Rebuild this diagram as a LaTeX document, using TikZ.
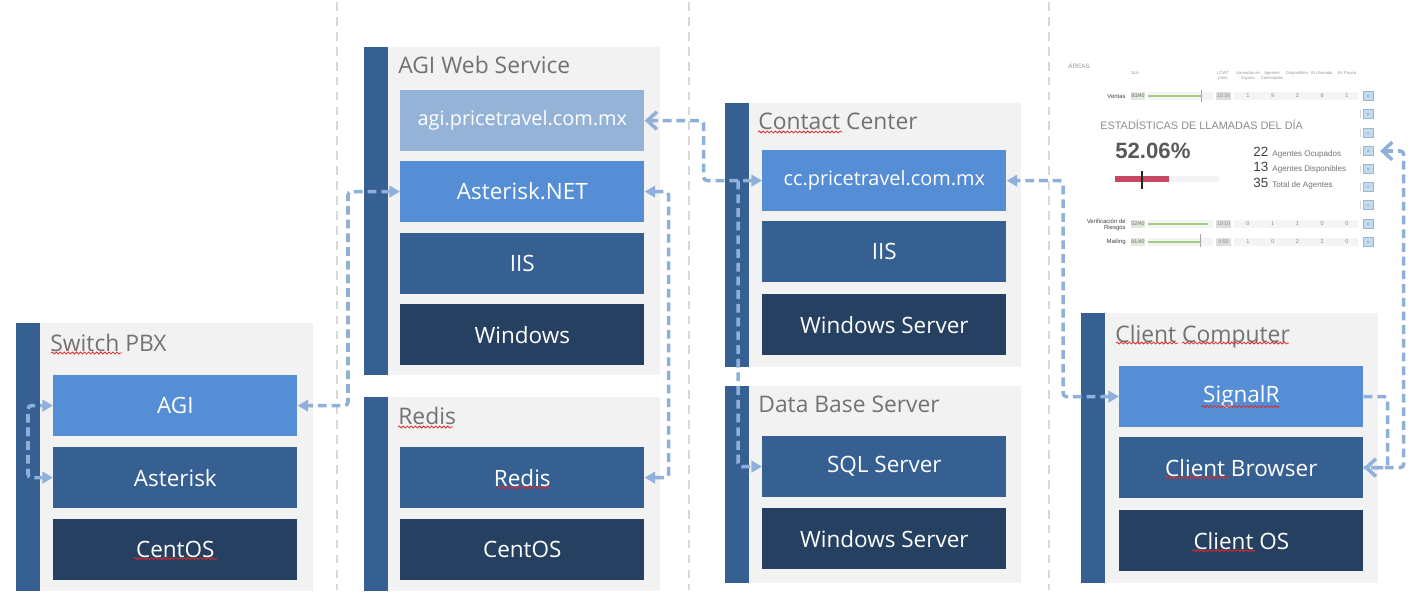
\documentclass[tikz,border=0pt]{standalone}
\usepackage{fontspec}
\setmainfont{Open Sans}
\newfontfamily\dashfont{Liberation Sans}
\usetikzlibrary{arrows.meta,positioning,calc,decorations.pathmorphing}
\definecolor{cPanel}{RGB}{242,242,242}
\definecolor{cBar}{RGB}{54,96,146}
\definecolor{cLight}{RGB}{149,179,215}
\definecolor{cBlue}{RGB}{85,142,213}
\definecolor{cMid}{RGB}{54,96,146}
\definecolor{cDark}{RGB}{37,64,97}
\definecolor{cLink}{RGB}{143,176,218}
\definecolor{cSep}{RGB}{217,217,217}
\definecolor{cTitle}{RGB}{118,113,113}
\definecolor{cTrack}{RGB}{244,244,244}
\definecolor{cSla}{RGB}{228,234,218}
\definecolor{cWait}{RGB}{222,222,222}
\definecolor{cGood}{RGB}{160,206,126}
\definecolor{cRed}{RGB}{200,72,98}
\definecolor{cBtn}{RGB}{196,219,238}
\definecolor{cBtnLine}{RGB}{150,184,214}
\definecolor{cHead}{RGB}{150,150,150}
\definecolor{cSpell}{RGB}{228,40,40}

\tikzset{
  tri/.tip={Triangle[width=6.5pt,length=6pt]},
  barb/.tip={Straight Barb[width=10pt,length=5.5pt]},
  layer/.style={anchor=north west, minimum width=4.88cm, minimum height=1.21cm,
    inner sep=0pt, text=white, font=\fontsize{12.8}{15}\selectfont},
  url/.style={font=\fontsize{11.3}{14}\selectfont},
  title/.style={anchor=base west, inner sep=0pt, text=cTitle, font=\fontsize{13}{15}\selectfont},
  link/.style={draw=cLink, line width=2pt, dash pattern=on 5pt off 2.8pt, rounded corners=2pt},
  sep/.style={draw=cSep, line width=1.6pt, dash pattern=on 5pt off 3.5pt},
  spell/.style={draw=cSpell, line width=0.45pt, decorate, decoration={snake, amplitude=0.55pt, segment length=2.3pt}},
  hdr/.style={inner sep=0pt, align=center, text=cHead, font=\dashfont\fontsize{2.4}{2.8}\selectfont},
  rowlbl/.style={anchor=east, inner sep=0pt, align=right, text=black!75, font=\dashfont\fontsize{3.4}{3.8}\selectfont},
  slabox/.style={fill=cSla, minimum width=0.28cm, minimum height=0.16cm, inner sep=0pt, text=black!60, font=\dashfont\fontsize{3}{3}\selectfont},
  waitbox/.style={fill=cWait, minimum width=0.3cm, minimum height=0.16cm, inner sep=0pt, text=black!45, font=\dashfont\fontsize{3}{3}\selectfont},
  val/.style={inner sep=0pt, text=black!45, font=\dashfont\fontsize{3.2}{3.2}\selectfont},
  btn/.style={fill=cBtn, draw=cBtnLine, line width=0.3pt, minimum size=0.19cm, inner sep=0pt},
  num/.style={anchor=west, inner sep=0pt, text=black!75, font=\dashfont\fontsize{7.6}{8}\selectfont},
  numlbl/.style={anchor=base west, inner sep=0pt, text=black!55, font=\dashfont\fontsize{4.6}{5}\selectfont},
}

\begin{document}
\begin{tikzpicture}[x=0.02cm, y=-0.02cm]
    \useasboundingbox (0,0) rectangle (1416,608);

    % separators
    \draw[sep] (337,2) -- (337,590);
    \draw[sep] (689,2) -- (689,590);
    \draw[sep] (1049,2) -- (1049,590);

    % Switch PBX
    \fill[cPanel] (16,323) rectangle (313,591);
    \fill[cBar] (16,323) rectangle (40,591);
    \node[title] (tPbx) at (50,351) {Switch PBX};
    \node[layer, fill=cBlue] (agi) at (53,375) {AGI};
    \node[layer, fill=cMid] (aster) at (53,447) {Asterisk};
    \node[layer, fill=cDark] (cent1) at (53,519) {CentOS};

    % AGI Web Service
    \fill[cPanel] (364,47) rectangle (660,375);
    \fill[cBar] (364,47) rectangle (388,375);
    \node[title] (tAgi) at (398,74) {AGI Web Service};
    \node[layer, url, fill=cLight] (agiurl) at (400,90) {agi.pricetravel.com.mx};
    \node[layer, fill=cBlue] (asnet) at (400,161) {Asterisk.NET};
    \node[layer, fill=cMid] (iis1) at (400,233) {IIS};
    \node[layer, fill=cDark] (win1) at (400,304) {Windows};

    % Redis
    \fill[cPanel] (364,397) rectangle (660,591);
    \fill[cBar] (364,397) rectangle (388,591);
    \node[title] (tRedis) at (398,424) {Redis};
    \node[layer, fill=cMid] (redis) at (400,447) {Redis};
    \node[layer, fill=cDark] (cent2) at (400,519) {CentOS};

    % Contact Center
    \fill[cPanel] (725,103) rectangle (1021,367);
    \fill[cBar] (725,103) rectangle (749,367);
    \node[title] (tCc) at (758,130) {Contact Center};
    \node[layer, url, fill=cBlue] (cc) at (762,150) {cc.pricetravel.com.mx};
    \node[layer, fill=cMid] (iis2) at (762,221) {IIS};
    \node[layer, fill=cDark] (win2) at (762,294) {Windows Server};

    % Data Base Server
    \fill[cPanel] (725,386) rectangle (1021,583);
    \fill[cBar] (725,386) rectangle (749,583);
    \node[title] (tDb) at (758,412) {Data Base Server};
    \node[layer, fill=cMid] (sql) at (762,436) {SQL Server};
    \node[layer, fill=cDark] (win3) at (762,508) {Windows Server};

    % Client Computer
    \fill[cPanel] (1081,313) rectangle (1378,583);
    \fill[cBar] (1081,313) rectangle (1105,583);
    \node[title] (tClient) at (1115,342) {Client Computer};
    \node[layer, fill=cBlue] (signal) at (1119,366) {SignalR};
    \node[layer, fill=cMid] (browser) at (1119,437) {Client Browser};
    \node[layer, fill=cDark] (clos) at (1119,510) {Client OS};

    % spell marks
    \draw[spell] ($(tPbx.base west)+(1,2)$) -- ++(71,0);
    \draw[spell] ($(tCc.base west)+(0,2)$) -- ++(84,0);
    \draw[spell] ($(tRedis.base west)+(0,3)$) -- ++(55,0);
    \draw[spell] ($(tClient.base west)+(1,1)$) -- ++(62,0);
    \draw[spell] ($(tClient.base west)+(67,1)$) -- ++(107,0);
    \draw[spell] ($(redis.center)+(-25,10)$) -- ++(52,0);
    \draw[spell] ($(cent1.center)+(-41,9)$) -- ++(83,0);
    \draw[spell] ($(signal.center)+(-40,10)$) -- ++(78,0);
    \draw[spell] ($(browser.center)+(-76,10)$) -- ++(64,0);
    \draw[spell] ($(clos.center)+(-49,10)$) -- ++(63,0);

    % dashboard
    \node[hdr, anchor=west, font=\dashfont\fontsize{3.6}{4}\selectfont] (areas) at (1068,66) {ÁREAS};
    \node[hdr] (hSla) at (1135,73) {SLA};
    \node[hdr] (hWait) at (1223,76) {LCWT\\(min)};
    \node[hdr] (hQueue) at (1248,76) {Llamadas en\\Espera};
    \node[hdr] (hConn) at (1272,76) {Agentes\\Conectados};
    \node[hdr] (hFree) at (1297,73) {Disponibles};
    \node[hdr] (hCall) at (1322,73) {En llamada};
    \node[hdr] (hPause) at (1347,73) {En Pausa};

    \node[rowlbl] (lVentas) at (1126,96) {Ventas};
    \node[slabox] (sVentas) at (1138,96) {83/40};
    \fill[cTrack] (1148,92) rectangle (1213,100);
    \fill[cGood] (1148,95) rectangle (1201,97);
    \draw[black!35, line width=0.3pt] (1201,90) -- (1201,102);
    \node[waitbox] (wVentas) at (1223.5,96) {15:30};
    \fill[cTrack] (1234,92) rectangle (1358,100);
    \foreach \v [count=\k] in {1,9,2,6,1} \node[val] at (1223+24.8*\k,96) {\v};

    \node[rowlbl] (lRiesgo) at (1126,225) {Verificación de\\Riesgos};
    \node[slabox] (sRiesgo) at (1138,224) {52/40};
    \fill[cTrack] (1148,220) rectangle (1213,228);
    \fill[cGood] (1148,223) rectangle (1208,225);
    \node[waitbox] (wRiesgo) at (1223.5,224) {10:10};
    \fill[cTrack] (1234,220) rectangle (1358,228);
    \foreach \v [count=\k] in {0,1,1,0,0} \node[val] at (1223+24.8*\k,224) {\v};

    \node[rowlbl] (lMail) at (1126,242) {Mailing};
    \node[slabox] (sMail) at (1138,242) {81/40};
    \fill[cTrack] (1148,238) rectangle (1213,246);
    \fill[cGood] (1148,241) rectangle (1200,243);
    \draw[black!35, line width=0.3pt] (1200,234) -- (1200,247);
    \node[waitbox] (wMail) at (1223.5,242) {0:50};
    \fill[cTrack] (1234,238) rectangle (1358,246);
    \foreach \v [count=\k] in {1,0,2,2,0} \node[val] at (1223+24.8*\k,242) {\v};

    \foreach \y [count=\k] in {96,114,133,151,169,187,205,224,242} {
        \node[btn] (btn\k) at (1368,\y) {};
        \fill[cDark] (btn\k) circle (0.4pt);
    }
    \foreach \y in {114,133,151,169,187,205} \draw[cSep, line width=0.5pt] (1360,\y-4) -- (1360,\y+4);

    \node[anchor=west, inner sep=0pt, text=black!45, font=\dashfont\fontsize{6.2}{7}\selectfont] (stats) at (1100,125) {ESTADÍSTICAS DE LLAMADAS DEL DÍA};
    \node[anchor=west, inner sep=0pt, text=black!65, font=\dashfont\bfseries\fontsize{12.6}{14}\selectfont] (pct) at (1115,151) {52.06\%};
    \fill[cRed] (1115,176) rectangle (1169,182);
    \fill[cTrack] (1169,176) rectangle (1219,182);
    \draw[black!85, line width=0.9pt] (1142,171) -- (1142,189);
    \node[num] (nBusy) at (1253,152) {22};
    \node[num] (nFree) at (1253,167) {13};
    \node[num] (nAll) at (1253,183) {35};
    \node[numlbl, right=2pt of nBusy.base east, anchor=base west] (lBusy) {Agentes Ocupados};
    \node[numlbl, right=2pt of nFree.base east, anchor=base west] (lFree) {Agentes Disponibles};
    \node[numlbl, right=2pt of nAll.base east, anchor=base west] (lAll) {Total de Agentes};
    \coordinate (board) at ($(btn4.east)+(7,0)$);

    % links
    \draw[link, tri-tri] (aster.west) -- ++(-25,0) |- (agi.west);
    \draw[link, tri-tri] (asnet.west) -- ++(-52,0) |- (agi.east);
    \draw[link, tri-tri] (asnet.east) -- ++(24,0) |- (redis.east);
    \draw[link, barb-tri] (agiurl.east) -- ++(59,0) |- (cc.west);
    \draw[link, -tri] (cc.west) ++(-24,0) |- (sql.west);
    \draw[link, tri-tri] (signal.west) -- ++(-56,0) |- (cc.east);
    \draw[link, -barb] (signal.east) -- ++(24,0) |- (browser.east);
    \draw[link, barb-] (board) -| ($(browser.east)+(40,0)$) -- (browser.east);
\end{tikzpicture}
\end{document}
